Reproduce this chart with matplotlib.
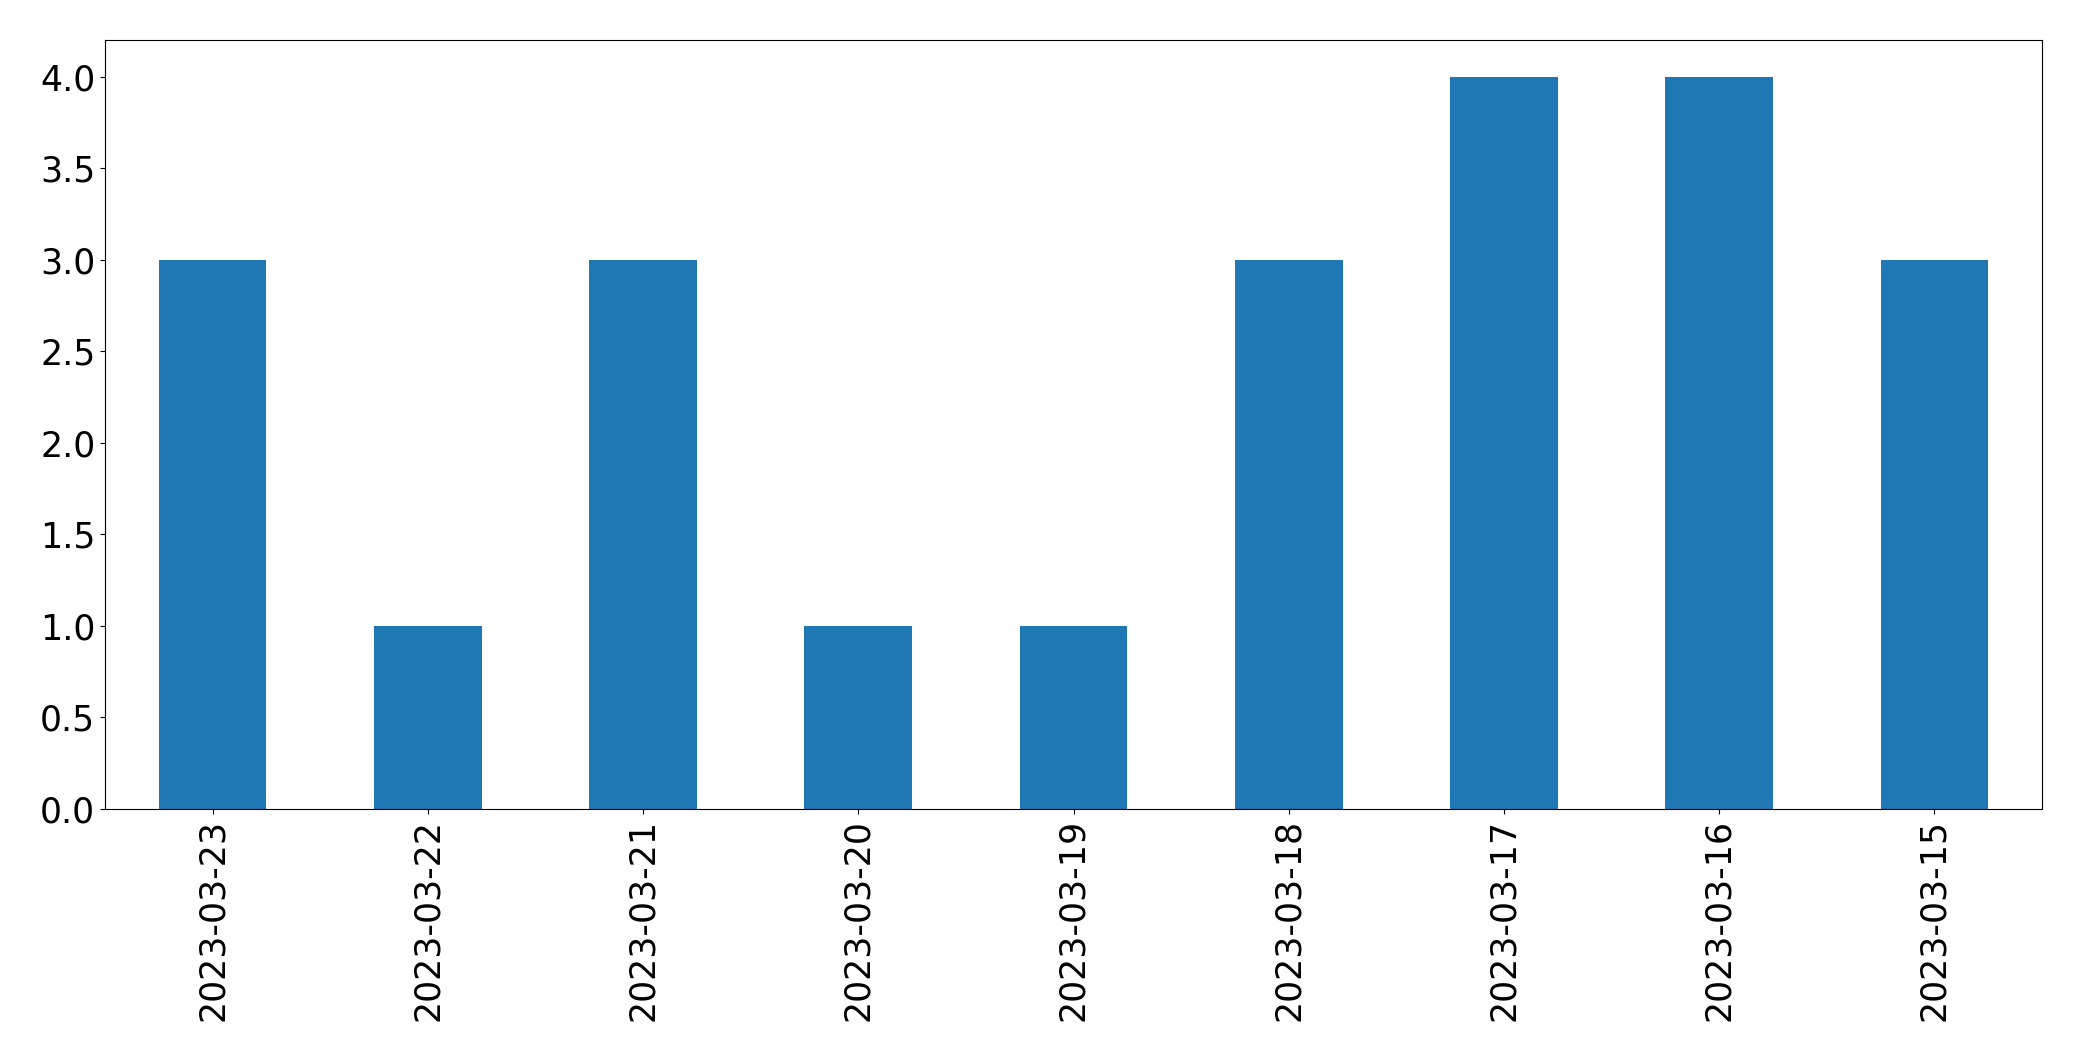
import matplotlib
matplotlib.use("Agg")
import matplotlib.pyplot as plt

dates = ["2023-03-23", "2023-03-22", "2023-03-21", "2023-03-20", "2023-03-19",
         "2023-03-18", "2023-03-17", "2023-03-16", "2023-03-15"]
counts = [3, 1, 3, 1, 1, 3, 4, 4, 3]

fig = plt.figure(figsize=(20.82, 10.61), dpi=100)
ax = fig.add_axes([105/2082, 1 - 809/1061, (2042-105)/2082, (809-40)/1061])
x = range(len(dates))
ax.bar(x, counts, width=0.5, color="#1f77b4")
ax.set_xticks(list(x))
ax.set_xticklabels(dates, rotation=90)
ax.set_xlim(-0.5, len(dates) - 0.5)
ax.set_ylim(0, 4.2)
ax.tick_params(labelsize=25)
fig.savefig("out.png", dpi=100)
